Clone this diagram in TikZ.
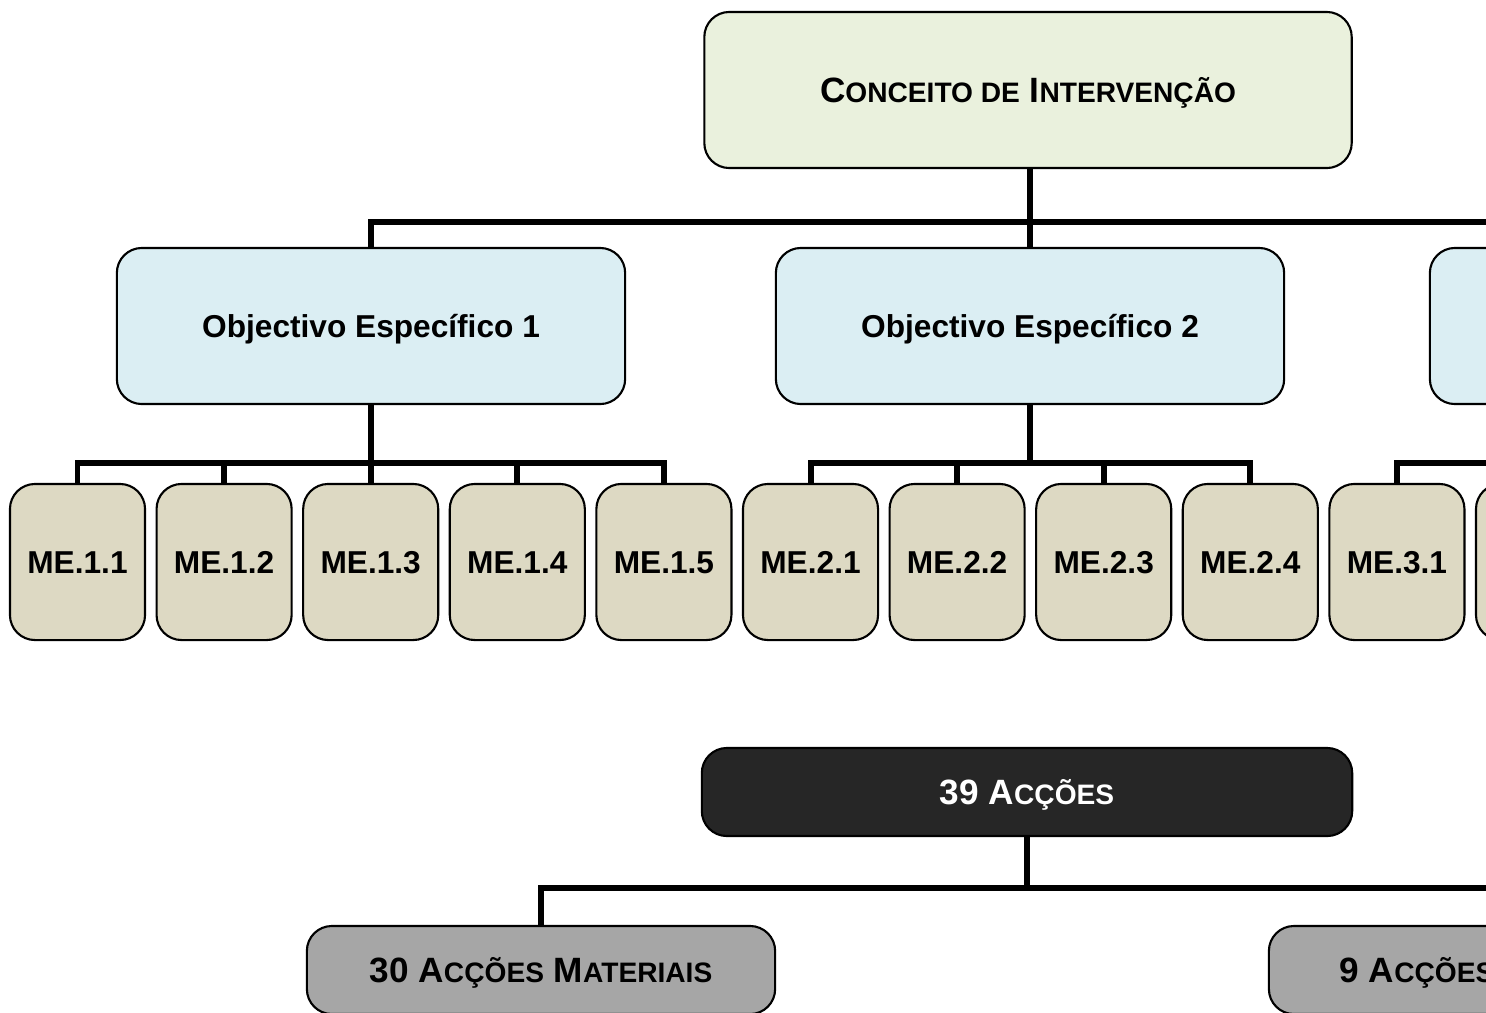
\documentclass[tikz,border=0pt]{standalone}
\usepackage{fontspec}
\setmainfont{Liberation Sans}
\usepackage{xcolor}
\usepackage {tikz}
\usetikzlibrary{positioning}

\definecolor{ceFill}{HTML}{EAF1DD}
\definecolor{oeFill}{HTML}{DBEEF3}
\definecolor{meFill}{HTML}{DDD9C3}
\definecolor{accFill}{HTML}{262626}
\definecolor{subFill}{HTML}{A6A6A6}

\newcommand{\smcap}[1]{{\fontsize{8}{9.6}\selectfont #1}}

\tikzset{
	box/.style={draw, line width=0.6pt, rounded corners=0.25cm, align=center, inner sep=0pt,
		font=\bfseries\fontsize{9}{11}\selectfont, text height=6.45pt, text depth=0pt},
	cebox/.style={box, fill=ceFill, minimum width=6.47cm, minimum height=1.56cm,
		font=\bfseries\fontsize{10}{12}\selectfont, text height=7.2pt},
	oebox/.style={box, fill=oeFill, minimum width=5.08cm, minimum height=1.56cm},
	mebox/.style={box, fill=meFill, minimum width=1.35cm, minimum height=1.56cm},
	accbox/.style={box, fill=accFill, text=white, minimum width=6.5cm, minimum height=0.88cm,
		font=\bfseries\fontsize{10}{12}\selectfont, text height=7.2pt},
	subbox/.style={box, fill=subFill, minimum width=4.68cm, minimum height=0.88cm,
		font=\bfseries\fontsize{10}{12}\selectfont, text height=7.2pt},
	bar/.style={line width=1.7pt}
}

\begin{document}
\begin{tikzpicture}[x=0.01cm, y=-0.01cm]
	\path[use as bounding box, clip] (0,0) rectangle (1486,1012);

	% conceito e objectivos
	\node[cebox] (ce) at (1028,90) {C\smcap{ONCEITO DE} I\smcap{NTERVENÇÃO}};
	\node[oebox] (oe1) at (371,326) {Objectivo Específico 1};
	\node[oebox] (oe2) at (1030,326) {Objectivo Específico 2};
	\node[oebox] (oe3) at (1684,326) {};

	\foreach \lab [count=\i from 0] in {1.1,1.2,1.3,1.4,1.5,2.1,2.2,2.3,2.4,3.1} {
		\node[mebox] (me\i) at (77.5+146.6*\i, 562) {ME.\lab};
	};
	\node[mebox] (me10) at (1543.5,562) {};

	\coordinate (j0) at (1030,222);
	\draw[bar] (oe2.north) -- (oe2.north |- ce.south);
	\draw[bar] (oe1.north) |- (j0) -| (oe3.north);

	\foreach \i in {0,...,4} {
		\draw[bar] (oe1.south) -- ++(0,58) -| (me\i.north);
	};
	\foreach \i in {5,...,8} {
		\draw[bar] (oe2.south) -- ++(0,58) -| (me\i.north);
	};
	\foreach \i in {9,10} {
		\draw[bar] (oe3.south) -- ++(0,58) -| (me\i.north);
	};

	% accoes
	\node[accbox] (acc) at (1027,792) {39 A\smcap{CÇÕES}};
	\node[subbox] (mat) at (541,970) {30 A\smcap{CÇÕES} M\smcap{ATERIAIS}};
	\node[subbox] (imat) at (1503,970) {9 A\smcap{CÇÕES} I\smcap{MATERIAIS}};

	\draw[bar] (acc.south) -- ++(0,51) -| (mat.north);
	\draw[bar] (acc.south) -- ++(0,51) -| (imat.north);
\end{tikzpicture}
\end{document}
